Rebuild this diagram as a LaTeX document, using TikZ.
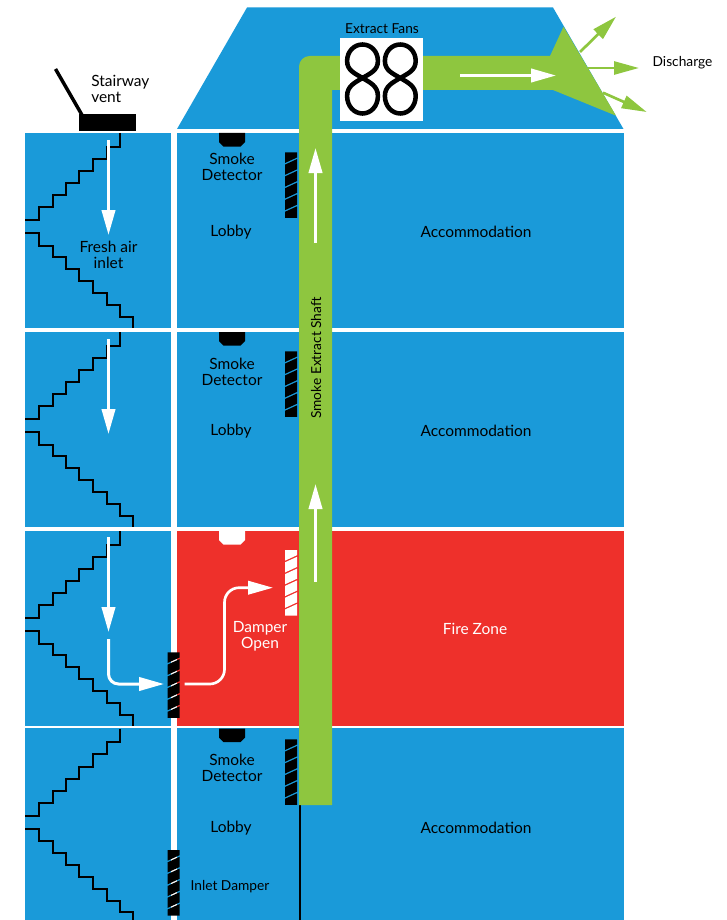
\documentclass[tikz,border=0pt]{standalone}
\usepackage{fontspec}
\setmainfont{Lato}
\usetikzlibrary{arrows.meta,calc}
\definecolor{zoneblue}{HTML}{1A9AD9}
\definecolor{shaftgreen}{HTML}{8EC63F}
\definecolor{firered}{HTML}{EE302B}
\tikzset{
  lbl/.style={inner sep=0pt, align=center, font=\fontsize{11.6}{12}\selectfont},
  smalllbl/.style={lbl, font=\fontsize{10.3}{12}\selectfont},
  stairline/.style={line width=1.5pt},
  airflow/.style={white, line width=2.25pt, -{Triangle[length=18.75pt,width=10pt]}},
  ventflow/.style={shaftgreen, line width=2pt, -{Triangle[length=18.75pt,width=9.75pt]}},
  damper/.pic={
    \fill[pic actions] (0,0) -- (12,0) -- (12,5.2) -- (0,10.7) -- cycle;
    \foreach \k in {0,...,3}
      \fill[pic actions] (0,{12.3+11.8*\k}) -- (12,{6.8+11.8*\k}) -- (12,{17+11.8*\k}) -- (0,{22.5+11.8*\k}) -- cycle;
    \fill[pic actions] (0,59.5) -- (12,54) -- (12,65.6) -- (0,65.6) -- cycle;
  },
  detector/.pic={
    \fill[pic actions] (0,0) -- (26,0) -- (26,9) -- (21.5,13.6) -- (4.5,13.6) -- (0,9) -- cycle;
  },
}
\begin{document}
\begin{tikzpicture}[x=0.75pt, y=-0.75pt, >=Latex]
  \useasboundingbox (0,0) rectangle (726,920);
  \clip (0,0) rectangle (726,920);
  \fill[zoneblue] (177,129) -- (247,7.5) -- (553,7.5) -- (623.5,129) -- cycle;
  \foreach \top/\bot in {133/328, 332/527, 531/726, 728/920}
    \fill[zoneblue] (25,\top) rectangle (171,\bot);
  \foreach \top/\bot/\zone in {133/328/zoneblue, 332/527/zoneblue, 531/726/firered, 728/920/zoneblue}
    \fill[\zone] (177,\top) rectangle (624,\bot);
  \foreach \s in {0,199,398,595.5}
    \draw[stairline, shift={(0,\s)}]
      (120,133) -- (120,146.7) -- (106.7,146.7) -- (106.7,158.7) -- (92.7,158.7) -- (92.7,171)
      -- (79.3,171) -- (79.3,183) -- (66,183) -- (66,195) -- (52.7,195) -- (52.7,207.3)
      -- (39.3,207.3) -- (39.3,220) -- (25,220)
      (25,233) -- (39.3,233) -- (39.3,245.6) -- (52.7,245.6) -- (52.7,257) -- (66,257)
      -- (66,269) -- (79.3,269) -- (79.3,281) -- (92.7,281) -- (92.7,293) -- (106.7,293)
      -- (106.7,305) -- (120,305) -- (120,316.5) -- (133,316.5) -- (133,328);
  \draw[line width=1.5pt] (300.3,805) -- (300.3,920);
  \fill[shaftgreen, rounded corners=8pt] (299,805) -- (299,56) -- (340,56) [sharp corners] -- (550,56)
    -- (563.5,26.7) -- (616,115.7) -- (553,90) -- (332,90) -- (332,805) -- cycle;
  \fill[white] (340,38) rectangle (423,121);
  \foreach \fanx in {362.5,400.3}
    \draw[line width=3.4pt, shift={(\fanx,0)}]
      (0,78) .. controls (-7.5,73.5) and (-15.4,70.5) .. (-15.4,61) .. controls (-15.4,51.5) and (-8.5,44.5) .. (0,44.5)
      .. controls (8.5,44.5) and (15.4,51.5) .. (15.4,61) .. controls (15.4,70.5) and (7.5,73.5) .. (0,78)
      .. controls (-7.5,82.5) and (-15.4,86) .. (-15.4,96) .. controls (-15.4,106) and (-8.5,113.5) .. (0,113.5)
      .. controls (8.5,113.5) and (15.4,106) .. (15.4,96) .. controls (15.4,86) and (7.5,82.5) .. (0,78) -- cycle;
  \fill (79,114) rectangle (136,131);
  \draw[line width=2.6pt] (82,115) -- (55.5,69);
  \foreach \s in {0,199}
    \draw[airflow] (108.5,{140+\s}) -- (108.5,{235+\s});
  \draw[airflow] (108.5,537) -- (108.5,632);
  \draw[airflow, rounded corners=7.5pt] (108.5,639) -- (108.5,684) -- (164,684);
  \draw[airflow, line width=2pt, rounded corners=11pt] (184.5,684) -- (224.5,684) -- (224.5,587.7) -- (273,587.7);
  \draw[airflow] (315.5,243) -- (315.5,148);
  \draw[airflow] (315.5,582) -- (315.5,484);
  \draw[airflow] (460,75.5) -- (556,75.5);
  \draw[ventflow] (580,52) -- (616,16.7);
  \draw[ventflow] (588,68) -- (639,68);
  \draw[ventflow] (603,92.7) -- (646.7,112);
  \foreach \dy in {152.3,351.3,739.3}
    \pic[black] at (285,\dy) {damper};
  \pic[white] at (285,550) {damper};
  \pic[black] at (167.6,652.3) {damper};
  \pic[black] at (167.6,850) {damper};
  \foreach \dy in {133,332,728.5}
    \pic[black] at (219,\dy) {detector};
  \pic[white] at (219,531) {detector};
  \foreach \n/\sy/\ly in {1/167.3/232, 2/372.3/431, 4/768.3/828} {
    \node[lbl] (smoke\n) at (232,\sy) {Smoke\\Detector};
    \node[lbl] (lobby\n) at (231,\ly) {Lobby};
    \node[lbl] (accom\n) at (476,\ly) {Accommodation};
  }
  \node[lbl, align=left, anchor=west] (vent) at (91,89) {Stairway\\vent};
  \node[lbl] (fresh) at (108.5,254.5) {Fresh air\\inlet};
  \node[lbl, white] (fire) at (475,629) {Fire Zone};
  \node[lbl, white] (open) at (260,636.5) {Damper\\Open};
  \node[smalllbl] (inlet) at (230,886.5) {Inlet Damper};
  \node[smalllbl] (fans) at (382,28.5) {Extract Fans};
  \node[smalllbl] (discharge) at (682.5,62.5) {Discharge};
  \node[smalllbl, rotate=90] (shaft) at (316,358) {Smoke Extract Shaft};
\end{tikzpicture}
\end{document}
